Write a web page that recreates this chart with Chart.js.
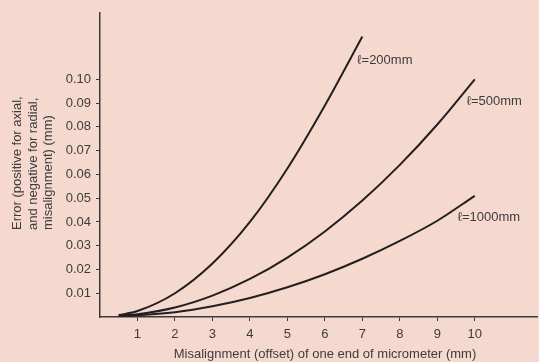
<!DOCTYPE html>
<html><head><meta charset="utf-8">
<script src="https://cdn.jsdelivr.net/npm/chart.js@4.4.1/dist/chart.umd.min.js"></script>
<style>html,body{margin:0;padding:0;background:#F5D9CE;}#wrap{width:539px;height:362px;position:relative;}</style>
</head><body><div id="wrap"><canvas id="c" width="539" height="362"></canvas></div>
<script>
const xTicks = [1,2,3,4,5,6,7,8,9,10];
const yTicks = [0.01,0.02,0.03,0.04,0.05,0.06,0.07,0.08,0.09,0.10];
const x200 = [0.5,1,2,3,4,5,6,7];
const y200 = [0.0008,0.0025,0.010,0.0225,0.040,0.0625,0.089,0.118];
const x500 = [0.5,1,2,3,4,5,6,7,8,9,10];
const y500 = [0.0006,0.0012,0.004,0.009,0.016,0.025,0.036,0.049,0.064,0.081,0.100];
const x1000 = [0.5,1,2,3,4,5,6,7,8,9,10];
const y1000 = [0.0004,0.0007,0.002,0.0045,0.008,0.0125,0.018,0.0245,0.032,0.0405,0.051];
const seriesLabels = ['\u2113=200mm','\u2113=500mm','\u2113=1000mm'];
const xTitle = 'Misalignment (offset) of one end of micrometer (mm)';
const yTitle = ['Error (positive for axial,','and negative for radial,','misalignment) (mm)'];

const FONT = '"Liberation Sans", Arial, sans-serif';
const FS = 13;
const TXT = '#3c3c3c';
const LINE = '#231f20';
const pts = (xs, ys) => xs.map((x,i)=>({x, y: ys[i]}));
const mk = (xs, ys, lbl) => ({label: lbl, data: pts(xs, ys), borderColor: LINE, borderWidth: 2, pointRadius: 0, fill: false, cubicInterpolationMode: 'monotone'});

const labelOffsets = [[-5,24],[-8,22],[-17,22]];
const annot = {
  id: 'annot',
  afterDraw(chart){
    const ctx = chart.ctx, xs = chart.scales.x, ys = chart.scales.y;
    ctx.save();
    ctx.fillStyle = TXT;
    ctx.font = FS + 'px ' + FONT;
    ctx.textBaseline = 'middle';
    ctx.textAlign = 'left';
    chart.data.datasets.forEach((ds, i) => {
      const last = ds.data[ds.data.length-1];
      const px = xs.getPixelForValue(last.x) + labelOffsets[i][0];
      const py = ys.getPixelForValue(last.y) + labelOffsets[i][1];
      ctx.fillText(seriesLabels[i], px, py);
    });
    ctx.textAlign = 'center';
    ctx.fillText(xTitle, 325, 354);
    ctx.textAlign = 'left';
    const xsCenters = [17, 33, 48];
    yTitle.forEach((t, i) => {
      ctx.save();
      ctx.translate(xsCenters[i], 230);
      ctx.rotate(-Math.PI/2);
      ctx.fillText(t, 0, 0);
      ctx.restore();
    });
    ctx.restore();
  }
};

new Chart(document.getElementById('c'), {
  type: 'line',
  data: { datasets: [mk(x200,y200,seriesLabels[0]), mk(x500,y500,seriesLabels[1]), mk(x1000,y1000,seriesLabels[2])] },
  options: {
    responsive: false, animation: false, devicePixelRatio: 1,
    layout: { padding: { top: 12, right: 2, left: 0, bottom: 0 } },
    plugins: { legend: { display: false }, tooltip: { enabled: false } },
    scales: {
      x: {
        type: 'linear', min: 0, max: 11.66,
        afterFit(s){ s.height = 45; },
        afterBuildTicks(s){ s.ticks = xTicks.map(v=>({value:v})); },
        border: { display: true, color: '#3a3a3a', width: 1.5 },
        grid: { display: true, drawOnChartArea: false, drawTicks: true, tickLength: 4, color: '#3a3a3a', tickWidth: 1 },
        ticks: { color: TXT, font: { size: FS, family: FONT }, padding: 6, maxRotation: 0, autoSkip: false, callback: v => String(v) }
      },
      y: {
        type: 'linear', min: 0, max: 0.128,
        afterFit(s){ s.width = 100; },
        afterBuildTicks(s){ s.ticks = yTicks.map(v=>({value:v})); },
        border: { display: true, color: '#3a3a3a', width: 1.5 },
        grid: { display: true, drawOnChartArea: false, drawTicks: true, tickLength: 4, color: '#3a3a3a', tickWidth: 1 },
        ticks: { color: TXT, font: { size: FS, family: FONT }, padding: 5, autoSkip: false, callback: v => v.toFixed(2) }
      }
    }
  },
  plugins: [annot]
});
</script></body></html>
